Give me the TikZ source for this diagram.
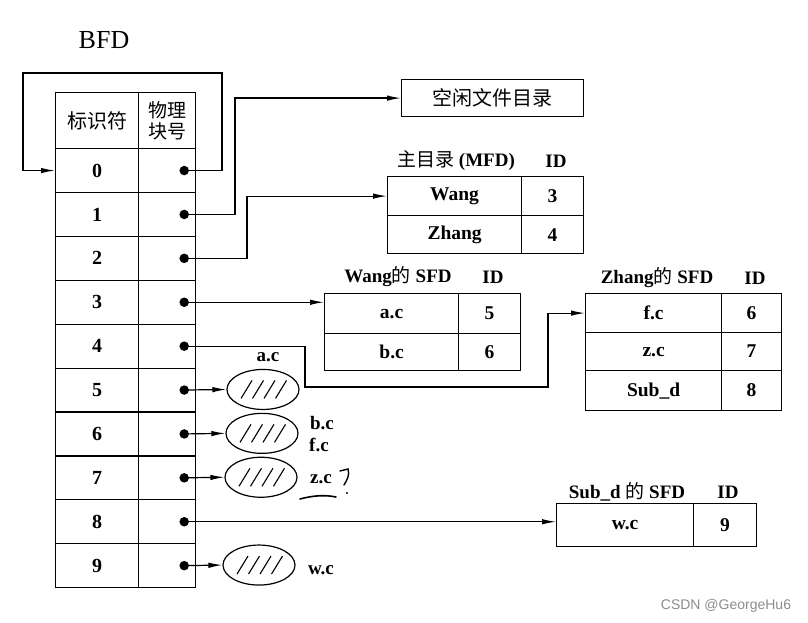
\documentclass[tikz,border=0pt]{standalone}
\usepackage{fontspec}
\setmainfont{Liberation Serif}
\newfontfamily\cjk{Noto Sans CJK SC}
\newfontfamily\wmfont{Liberation Sans}
\usetikzlibrary{arrows.meta,calc,shapes.geometric}
\begin{document}
\begin{tikzpicture}[x={(1pt,0)}, y={(0,-1pt)}, line width=1.2pt,
  cell/.style={draw, line width=1.2pt, inner sep=0pt, anchor=north west, font=\fontsize{19.5}{22}\selectfont\bfseries},
  numcell/.style={cell, font=\fontsize{20}{22}\selectfont\bfseries},
  dotn/.style={circle, fill, inner sep=0pt, minimum size=9.5pt},
  arr/.style={-{Latex[length=14pt,width=5.5pt]}, line width=1.2pt},
  ell/.style={ellipse, draw, line width=1.2pt, minimum width=72pt, minimum height=40pt, inner sep=0pt},
  lbl/.style={font=\fontsize{19}{22}\selectfont\bfseries, inner sep=1pt},
  zh/.style={font=\fontsize{20}{22}\selectfont\cjk}]
\useasboundingbox (0,0) rectangle (808,623);

% title
\node[font=\fontsize{26}{28}\selectfont, inner sep=0pt] (title) at (104,40) {BFD};

% BFD table
\node[cell, minimum width=83pt, minimum height=56pt, font=\cjk\mdseries\fontsize{20}{22}\selectfont] (h1) at (55,92) {标识符};
\node[cell, minimum width=57pt, minimum height=56pt, align=center, font=\cjk\mdseries\fontsize{19}{21}\selectfont] (h2) at (138,92) {物理\\块号};
\foreach \i in {0,...,9} {
  \node[numcell, minimum width=83pt, minimum height=43.9pt] (id\i) at (55,{148+43.9*\i}) {\i};
  \node[cell, minimum width=57pt, minimum height=43.9pt] (pb\i) at (138,{148+43.9*\i}) {};
  \node[dotn] (d\i) at ([xshift=-12pt]pb\i.east) {};
}

% free directory
\node[draw, line width=1.2pt, minimum width=182pt, minimum height=37pt, anchor=north west, zh] (free) at (401,79) {空闲文件目录};

% MFD
\node[lbl] (mfdh) at (456,161) {{\normalfont\cjk 主目录} (MFD)};
\node[lbl] (mfdid) at (556,161) {ID};
\node[cell, minimum width=134pt, minimum height=39pt] (m1) at (387,176) {Wang};
\node[cell, minimum width=62pt, minimum height=39pt] (m1id) at (521,176) {3};
\node[cell, minimum width=134pt, minimum height=38pt] (m2) at (387,215) {Zhang};
\node[cell, minimum width=62pt, minimum height=38pt] (m2id) at (521,215) {4};

% Wang SFD
\node[lbl] (wh) at (398,277) {Wang{\normalfont\cjk 的} SFD};
\node[lbl] (whid) at (493,277) {ID};
\node[cell, minimum width=134pt, minimum height=40pt] (w1) at (324,293) {a.c};
\node[cell, minimum width=62pt, minimum height=40pt] (w1id) at (458,293) {5};
\node[cell, minimum width=134pt, minimum height=37pt] (w2) at (324,333) {b.c};
\node[cell, minimum width=62pt, minimum height=37pt] (w2id) at (458,333) {6};

% Zhang SFD
\node[lbl] (zhh) at (657,278) {Zhang{\normalfont\cjk 的} SFD};
\node[lbl] (zhid) at (755,278) {ID};
\node[cell, minimum width=136pt, minimum height=39pt] (z1) at (585,293) {f.c};
\node[cell, minimum width=60pt, minimum height=39pt] (z1id) at (721,293) {6};
\node[cell, minimum width=136pt, minimum height=38pt] (z2) at (585,332) {z.c};
\node[cell, minimum width=60pt, minimum height=38pt] (z2id) at (721,332) {7};
\node[cell, minimum width=136pt, minimum height=40pt] (z3) at (585,370) {Sub\_d};
\node[cell, minimum width=60pt, minimum height=40pt] (z3id) at (721,370) {8};

% Sub_d SFD
\node[lbl] (sh) at (627,492) {Sub\_d {\normalfont\cjk 的} SFD};
\node[lbl] (shid) at (728,492) {ID};
\node[cell, minimum width=137pt, minimum height=43pt] (s1) at (556,503) {w.c};
\node[cell, minimum width=63pt, minimum height=43pt] (s1id) at (693,503) {9};

% ellipses
\node[ell] (e5) at (263,389.45) {};
\node[ell] (e6) at (262,433.35) {};
\node[ell] (e7) at (261,477.25) {};
\node[ell] (e9) at (259,565.05) {};
\foreach \e in {e5,e6,e7,e9} {
  \foreach \k in {0,...,3} {
    \draw[line width=1.1pt] ($(\e.center)+({-22+11.5*\k},9)$) -- ++(11,-18);
  }
}
\node[lbl] (la) at (268,357) {a.c};
\node[lbl] (lb) at (322,423) {b.c};
\node[lbl] (lf) at (319,445) {f.c};
\node[lbl] (lz) at (321,479) {z.c};
\node[lbl] (lw) at (321,570) {w.c};
% handwritten marks
\draw[line width=1.6pt, line cap=round] (300,499) .. controls (315,495) and (326,495) .. (336,497);
\draw[line width=1.4pt, line cap=round] (340,471) -- (348,469) .. controls (350,475) and (347,480) .. (344,485);
\fill (347,493) circle (1.2pt);

% connectors
\coordinate (lpA) at (222,73);
\coordinate (lpB) at (23,73);
\draw[arr] (d0.center) -| (lpA) -- (lpB) |- (id0.west);
\draw[arr] (d1.center) -| ([xshift=-166pt]free.west) -- (free.west);
\draw[arr] (d2.center) -| ([xshift=-140pt]m1.west) -- (m1.west);
\draw[arr] (d3.center) -- (d3.center -| w1.west);
\coordinate (c4) at (305,387);
\draw[arr] (d4.center) -| (c4) -| ([xshift=-37pt]z1.west) -- (z1.west);
\draw[arr] (d8.center) -- (d8.center -| s1.west);
\foreach \i in {5,6,7,9} {
  \draw[arr] (d\i.center) -- (e\i.west);
}

% watermark
\node[font=\wmfont\fontsize{14}{16}\selectfont, text=black!45, anchor=east] (wm) at (795,606) {CSDN @GeorgeHu6};
\end{tikzpicture}
\end{document}
